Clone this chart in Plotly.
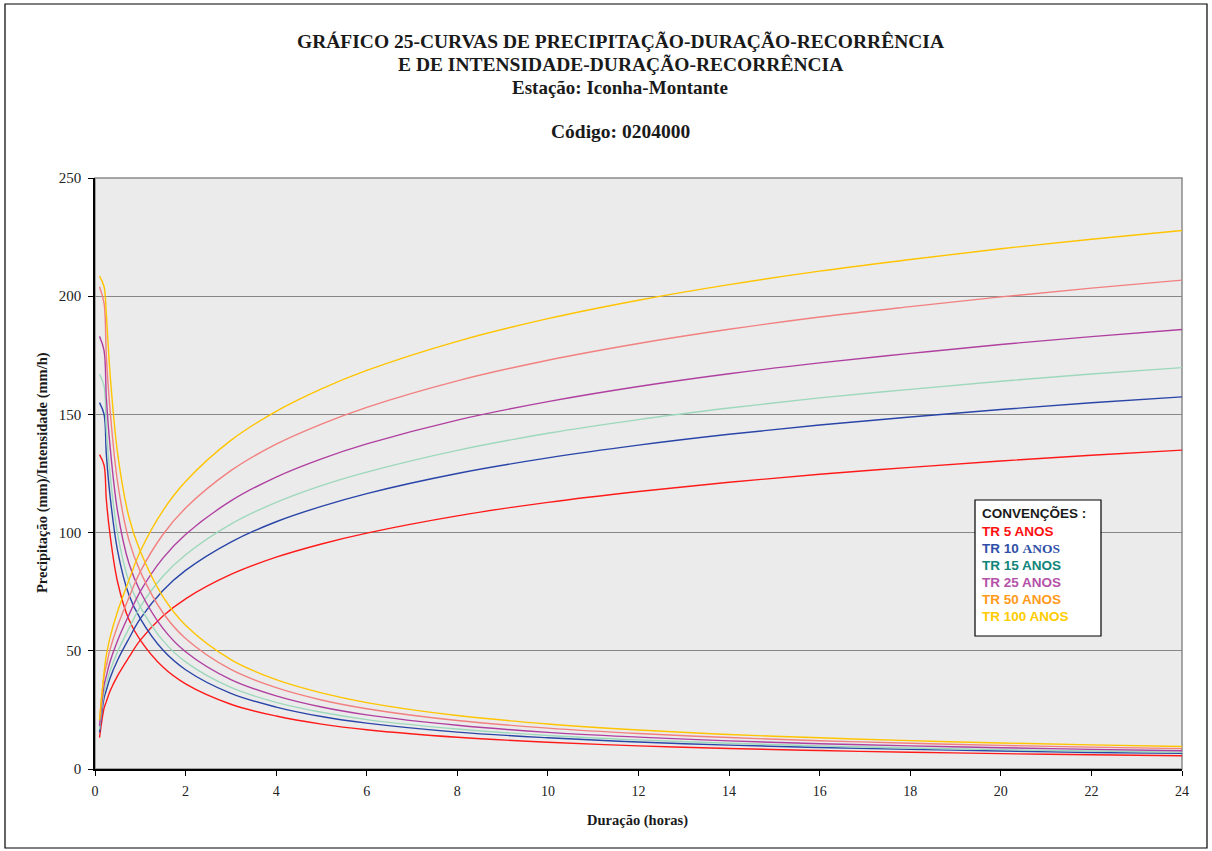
import plotly.graph_objects as go

# ---------------- data ----------------
duracao = [0.1, 0.2, 0.25, 0.333, 0.5, 0.75, 1, 1.5, 2, 3, 4, 5, 6, 8, 10, 12, 14, 16, 18, 20, 22, 24]

prec_tr5 = [13.3, 25.7, 28.5, 33.0, 39.5, 47.3, 54.5, 64.7, 72.0, 82.3, 89.6, 95.2, 99.8, 107.1, 112.8, 117.4, 121.3, 124.7, 127.6, 130.3, 132.7, 134.9]
prec_tr10 = [15.5, 30.0, 33.3, 38.5, 46.1, 55.2, 63.6, 75.5, 84.0, 96.0, 104.6, 111.1, 116.5, 125.0, 131.6, 137.0, 141.6, 145.5, 148.9, 152.1, 154.9, 157.4]
prec_tr15 = [16.7, 32.4, 35.9, 41.5, 49.7, 59.5, 68.6, 81.5, 90.6, 103.6, 112.8, 119.9, 125.6, 134.8, 142.0, 147.8, 152.7, 157.0, 160.6, 164.0, 167.1, 169.8]
prec_tr25 = [18.3, 35.4, 39.3, 45.5, 54.4, 65.2, 75.1, 89.2, 99.2, 113.4, 123.5, 131.2, 137.5, 147.6, 155.4, 161.8, 167.2, 171.8, 175.8, 179.6, 182.9, 185.9]
prec_tr50 = [20.4, 39.4, 43.7, 50.6, 60.6, 72.5, 83.5, 99.2, 110.4, 126.2, 137.4, 145.9, 153.0, 164.2, 172.9, 180.0, 186.0, 191.2, 195.6, 199.7, 203.4, 206.8]
prec_tr100 = [20.85, 40.8, 48.1, 55.7, 66.7, 79.9, 92.1, 109.3, 121.6, 139.0, 151.3, 160.8, 168.6, 180.9, 190.5, 198.3, 204.9, 210.6, 215.5, 220.1, 224.1, 227.8]

int_tr5 = [133.0, 128.5, 114.0, 99.0, 79.0, 63.1, 54.5, 43.1, 36.0, 27.4, 22.4, 19.0, 16.6, 13.4, 11.3, 9.8, 8.7, 7.8, 7.1, 6.5, 6.0, 5.6]
int_tr10 = [155.0, 150.0, 133.2, 115.5, 92.2, 73.6, 63.6, 50.3, 42.0, 32.0, 26.2, 22.2, 19.4, 15.6, 13.2, 11.4, 10.1, 9.1, 8.3, 7.6, 7.0, 6.6]
int_tr15 = [167.0, 162.0, 143.6, 124.5, 99.4, 79.3, 68.6, 54.3, 45.3, 34.5, 28.2, 24.0, 20.9, 16.9, 14.2, 12.3, 10.9, 9.8, 8.9, 8.2, 7.6, 7.1]
int_tr25 = [183.0, 177.0, 157.2, 136.5, 108.8, 86.9, 75.1, 59.5, 49.6, 37.8, 30.9, 26.2, 22.9, 18.5, 15.5, 13.5, 11.9, 10.7, 9.8, 9.0, 8.3, 7.75]
int_tr50 = [204.0, 197.0, 174.8, 151.8, 121.2, 96.7, 83.5, 66.1, 55.2, 42.1, 34.4, 29.2, 25.5, 20.5, 17.3, 15.0, 13.3, 11.95, 10.9, 10.0, 9.25, 8.6]
int_tr100 = [208.5, 204.0, 192.4, 167.1, 133.4, 106.5, 92.1, 72.9, 60.8, 46.3, 37.8, 32.2, 28.1, 22.6, 19.05, 16.5, 14.6, 13.2, 12.0, 11.0, 10.2, 9.5]

series_names = ["TR 5 ANOS", "TR 10 ANOS", "TR 15 ANOS", "TR 25 ANOS", "TR 50 ANOS", "TR 100 ANOS"]
x_ticks = [0, 2, 4, 6, 8, 10, 12, 14, 16, 18, 20, 22, 24]
y_ticks = [0, 50, 100, 150, 200, 250]

# ---------------- styles ----------------
line_colors = ["#ff1a1a", "#2a45a8", "#9ed8bc", "#b040a0", "#f28080", "#ffc400"]
legend_colors = ["#ff1010", "#2f50a8", "#10857a", "#b452a8", "#ff9a1a", "#ffcc00"]

precs = [prec_tr5, prec_tr10, prec_tr15, prec_tr25, prec_tr50, prec_tr100]
ints = [int_tr5, int_tr10, int_tr15, int_tr25, int_tr50, int_tr100]

fig = go.Figure()
for name, col, p, i in zip(series_names, line_colors, precs, ints):
    fig.add_trace(go.Scatter(x=duracao, y=p, mode="lines", name=name,
                             line=dict(color=col, width=1.4, shape="spline", smoothing=1.0),
                             showlegend=False))
    fig.add_trace(go.Scatter(x=duracao, y=i, mode="lines", name=name,
                             line=dict(color=col, width=1.4, shape="spline", smoothing=1.0),
                             showlegend=False))

W, H = 1212, 851
L, R, T, B = 95, 30, 178, 82
pw, ph = W - L - R, H - T - B


def px(xp):
    return (xp - L) / pw


def py(yp):
    return (H - B - yp) / ph


serif = "Liberation Serif, Times New Roman, serif"
sans = "Liberation Sans, Arial, sans-serif"

fig.update_layout(
    width=W, height=H,
    margin=dict(l=L, r=R, t=T, b=B),
    paper_bgcolor="white",
    plot_bgcolor="#ebebeb",
    showlegend=False,
    xaxis=dict(range=[0, 24], tickvals=x_ticks, ticktext=[str(v) for v in x_ticks],
               showgrid=False, zeroline=False, showline=True, linecolor="black", linewidth=1.5,
               ticks="outside", ticklen=5, tickcolor="black", tickwidth=1.2,
               tickfont=dict(family=serif, size=14, color="#222"), ticklabelstandoff=3),
    yaxis=dict(range=[0, 250], tickvals=y_ticks, ticktext=[str(v) for v in y_ticks],
               showgrid=True, gridcolor="#878787", gridwidth=1.3, zeroline=False,
               showline=True, linecolor="black", linewidth=1.5,
               ticks="outside", ticklen=5, tickcolor="black", tickwidth=1.2,
               tickfont=dict(family=serif, size=15, color="#222"), ticklabelstandoff=4),
)

shapes = []
# plot area border (gray top/right)
shapes.append(dict(type="rect", xref="paper", yref="paper", x0=0, x1=1, y0=0, y1=1,
                   line=dict(color="#8a8a8a", width=1.5), layer="below"))
# outer frame
shapes.append(dict(type="rect", xref="paper", yref="paper", x0=px(5), x1=px(1207), y0=py(848), y1=py(4),
                   line=dict(color="black", width=1.2)))
# legend box
shapes.append(dict(type="rect", xref="paper", yref="paper", x0=px(975), x1=px(1101), y0=py(636), y1=py(500),
                   line=dict(color="black", width=1.2), fillcolor="white"))
fig.update_layout(shapes=shapes)

ann = []
title_lines = [
    ("GRÁFICO 25-CURVAS DE PRECIPITAÇÃO-DURAÇÃO-RECORRÊNCIA", 42, 19.5),
    ("E DE INTENSIDADE-DURAÇÃO-RECORRÊNCIA", 64, 19.5),
    ("Estação: Iconha-Montante", 87, 19),
    ("Código: 0204000", 132, 19.5),
]
for txt, yp, sz in title_lines:
    ann.append(dict(text="<b>" + txt + "</b>", xref="paper", yref="paper", x=px(620), y=py(yp),
                    xanchor="center", yanchor="middle", showarrow=False,
                    font=dict(family=serif, size=sz, color="#1a1a1a")))

ann.append(dict(text="<b>Precipitação (mm)/Intensidade (mm/h)</b>", xref="paper", yref="paper",
                x=px(42), y=py(473), textangle=-90, xanchor="center", yanchor="middle", showarrow=False,
                font=dict(family=serif, size=14.5, color="#1a1a1a")))
ann.append(dict(text="<b>Duração (horas)</b>", xref="paper", yref="paper",
                x=px(637), y=py(820), xanchor="center", yanchor="middle", showarrow=False,
                font=dict(family=serif, size=14.5, color="#1a1a1a")))

# legend texts
ann.append(dict(text="<b>CONVENÇÕES :</b>", xref="paper", yref="paper", x=px(980), y=py(513),
                xanchor="left", yanchor="middle", showarrow=False,
                font=dict(family=sans, size=13.5, color="#1a1a1a")))
leg_y = [531, 548, 565, 582, 599, 616]
for name, col, yp in zip(series_names, legend_colors, leg_y):
    if name == "TR 10 ANOS":
        txt = "<b>TR 10 </b><span style='font-family:Liberation Serif'><b>ANOS</b></span>"
    else:
        txt = "<b>" + name + "</b>"
    ann.append(dict(text=txt, xref="paper", yref="paper", x=px(980), y=py(yp),
                    xanchor="left", yanchor="middle", showarrow=False,
                    font=dict(family=sans, size=13.5, color=col)))
fig.update_layout(annotations=ann)

fig.write_html("out.html", config={"displayModeBar": False},
               post_script="document.body.style.margin='0';")
